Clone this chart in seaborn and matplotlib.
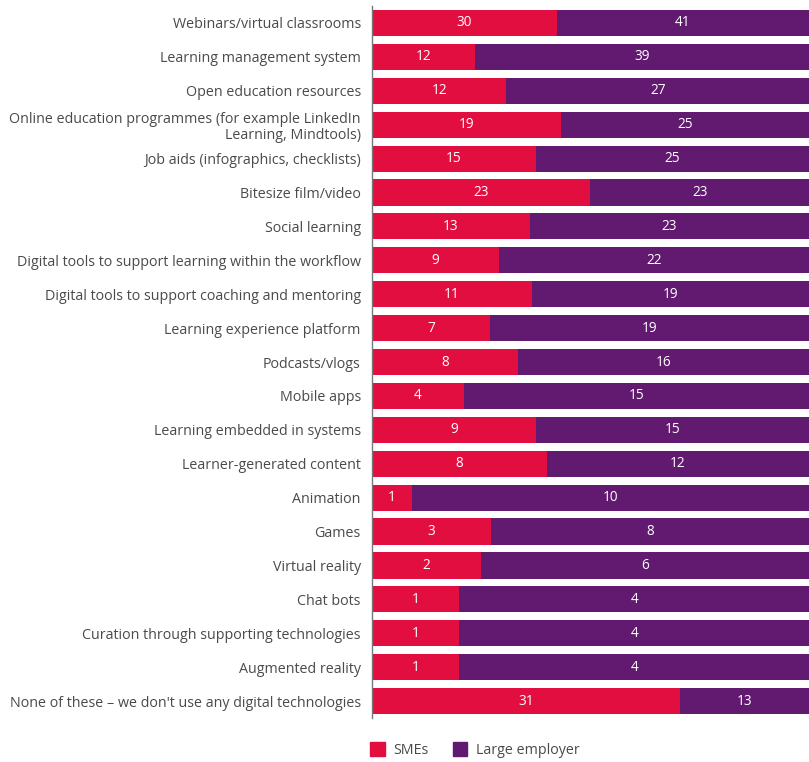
import matplotlib
matplotlib.use("Agg")
import matplotlib.pyplot as plt
from matplotlib.patches import Patch
import seaborn as sns
import pandas as pd

categories = [
    "Webinars/virtual classrooms",
    "Learning management system",
    "Open education resources",
    "Online education programmes (for example LinkedIn\nLearning, Mindtools)",
    "Job aids (infographics, checklists)",
    "Bitesize film/video",
    "Social learning",
    "Digital tools to support learning within the workflow",
    "Digital tools to support coaching and mentoring",
    "Learning experience platform",
    "Podcasts/vlogs",
    "Mobile apps",
    "Learning embedded in systems",
    "Learner-generated content",
    "Animation",
    "Games",
    "Virtual reality",
    "Chat bots",
    "Curation through supporting technologies",
    "Augmented reality",
    "None of these \u2013 we don't use any digital technologies",
]
smes = [30, 12, 12, 19, 15, 23, 13, 9, 11, 7, 8, 4, 9, 8, 1, 3, 2, 1, 1, 1, 31]
large = [41, 39, 27, 25, 25, 23, 23, 22, 19, 19, 16, 15, 15, 12, 10, 8, 6, 4, 4, 4, 13]

RED = "#e20e3f"
PURPLE = "#611a70"
TEXT = "#4a4a4a"

df = pd.DataFrame({"category": categories, "SMEs": smes, "Large employer": large})
total = df["SMEs"] + df["Large employer"]
df["sme_share"] = df["SMEs"] / total
df["full"] = 1.0

sns.set_theme(style="white")
plt.rcParams["font.family"] = ["Open Sans", "DejaVu Sans"]

fig = plt.figure(figsize=(8.09, 7.62), dpi=100)
ax = fig.add_axes([0.4598, 0.0577, 0.5402, 0.9344])

sns.barplot(data=df, y="category", x="full", color=PURPLE, orient="h",
            width=0.77, saturation=1, ax=ax, linewidth=0)
sns.barplot(data=df, y="category", x="sme_share", color=RED, orient="h",
            width=0.77, saturation=1, ax=ax, linewidth=0)

for i, (s, l, sh) in enumerate(zip(df["SMEs"], df["Large employer"], df["sme_share"])):
    ax.text(sh / 2, i, str(s), ha="center", va="center", color="white", fontsize=9.8)
    ax.text(sh + (1 - sh) / 2, i, str(l), ha="center", va="center", color="white", fontsize=9.8)

ax.set_xlim(0, 1)
ax.set_ylim(20.5, -0.5)
ax.set_xlabel("")
ax.set_ylabel("")
ax.set_xticks([])
ax.tick_params(axis="y", length=0, pad=8, labelsize=10.3, labelcolor=TEXT)
for lab in ax.get_yticklabels():
    lab.set_linespacing(1.1)
for side in ["top", "right", "bottom"]:
    ax.spines[side].set_visible(False)
ax.spines["left"].set_color("#777777")
ax.spines["left"].set_linewidth(1.0)

handles = [Patch(color=RED, label="SMEs"), Patch(color=PURPLE, label="Large employer")]
fig.legend(handles=handles, loc="center left", bbox_to_anchor=(0.442, 0.016),
           ncol=2, frameon=False, fontsize=10.3, handlelength=1.0, handleheight=1.2,
           handletextpad=0.6, columnspacing=1.7, labelcolor=TEXT)

fig.savefig("out.png", dpi=100)
